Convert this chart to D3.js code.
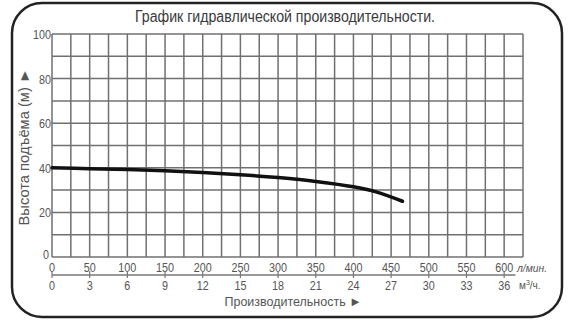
<!DOCTYPE html>
<html>
<head>
<meta charset="utf-8">
<script src="https://cdn.jsdelivr.net/npm/d3@7"></script>
<style>
  body { margin: 0; background: #fff; }
  svg { display: block; font-family: "Liberation Sans Narrow", "Arial Narrow", "Liberation Sans", sans-serif; }
  .grid line { stroke: #707070; stroke-width: 1.5; }
  .lbl { fill: #555; font-size: 13px; }
</style>
</head>
<body>
<div id="chart"></div>
<script>
// flow in l/min vs head in m
const flow = [0, 50, 100, 150, 200, 250, 300, 350, 400, 430, 465];
const head = [40, 39.6, 39.2, 38.7, 37.9, 36.9, 35.6, 33.9, 31.5, 29.2, 25.0];

const flowTicks = [0, 50, 100, 150, 200, 250, 300, 350, 400, 450, 500, 550, 600];
const m3Ticks = [0, 3, 6, 9, 12, 15, 18, 21, 24, 27, 30, 33, 36];
const headTicks = [0, 20, 40, 60, 80, 100];

const width = 571, height = 330;
const margin = { left: 52, top: 34, right: 48, bottom: 73 };

const svg = d3.select('#chart').append('svg')
    .attr('width', width)
    .attr('height', height);

// rounded frame
svg.append('rect')
    .attr('x', 12).attr('y', 3)
    .attr('width', 550).attr('height', 314)
    .attr('rx', 30).attr('ry', 30)
    .attr('fill', 'none')
    .attr('stroke', '#222')
    .attr('stroke-width', 2.5);

const x = d3.scaleLinear().domain([0, 625]).range([margin.left, width - margin.right]);
const y = d3.scaleLinear().domain([0, 100]).range([height - margin.bottom, margin.top]);

// narrow text helper: digits are condensed in the original
const narrow = d => String(d).length * 6;

// grid
const grid = svg.append('g').attr('class', 'grid');
grid.selectAll('line.v').data(d3.range(0, 626, 25))
    .enter().append('line')
    .attr('x1', d => x(d)).attr('x2', d => x(d))
    .attr('y1', y(0)).attr('y2', y(100));
grid.selectAll('line.h').data(d3.range(0, 101, 10))
    .enter().append('line')
    .attr('x1', x(0)).attr('x2', x(625))
    .attr('y1', d => y(d)).attr('y2', d => y(d));

// y labels
svg.append('g').selectAll('text').data(headTicks)
    .enter().append('text')
    .attr('class', 'lbl')
    .attr('x', d => d === 0 ? x(0) - 3 : x(0) - 1)
    .attr('y', d => y(d) + (d === 0 ? 2 : 5))
    .attr('text-anchor', 'end')
    .attr('textLength', narrow).attr('lengthAdjust', 'spacingAndGlyphs')
    .text(d => d);

// flow labels (l/min)
const row1 = height - margin.bottom + 15;
svg.append('g').selectAll('text').data(flowTicks)
    .enter().append('text')
    .attr('class', 'lbl')
    .attr('x', d => x(d))
    .attr('y', row1)
    .attr('text-anchor', 'middle')
    .attr('textLength', narrow).attr('lengthAdjust', 'spacingAndGlyphs')
    .text(d => d);

// separator line with ticks
const sepY = 275;
svg.append('line')
    .attr('x1', x(0)).attr('x2', x(615))
    .attr('y1', sepY).attr('y2', sepY)
    .attr('stroke', '#777').attr('stroke-width', 1.4);
svg.append('g').selectAll('line').data(flowTicks)
    .enter().append('line')
    .attr('x1', d => x(d)).attr('x2', d => x(d))
    .attr('y1', sepY - 4).attr('y2', sepY + 3)
    .attr('stroke', '#777').attr('stroke-width', 1.2);

// m3/h labels
svg.append('g').selectAll('text').data(m3Ticks)
    .enter().append('text')
    .attr('class', 'lbl')
    .attr('x', (d, i) => x(flowTicks[i]))
    .attr('y', 290)
    .attr('text-anchor', 'middle')
    .attr('textLength', narrow).attr('lengthAdjust', 'spacingAndGlyphs')
    .text(d => d);

// units
svg.append('text').attr('class', 'lbl')
    .attr('x', 517).attr('y', row1)
    .style('font-size', '11px').style('font-style', 'italic')
    .attr('textLength', 30).attr('lengthAdjust', 'spacingAndGlyphs')
    .text('л/мин.');
svg.append('text').attr('class', 'lbl')
    .attr('x', 519).attr('y', 289)
    .style('font-size', '10px')
    .html('м<tspan dy="-4" font-size="7">3</tspan><tspan dy="4">/ч.</tspan>');

// axis titles
svg.append('text').attr('class', 'lbl')
    .attr('x', 293).attr('y', 306)
    .attr('text-anchor', 'middle')
    .style('font-size', '13px')
    .attr('textLength', 137).attr('lengthAdjust', 'spacingAndGlyphs')
    .text('Производительность ►');
svg.append('text').attr('class', 'lbl')
    .attr('transform', 'translate(29,147) rotate(-90)')
    .attr('text-anchor', 'middle')
    .style('font-size', '14px')
    .attr('textLength', 157).attr('lengthAdjust', 'spacingAndGlyphs')
    .text('Высота подъёма (м) ►');

// title
svg.append('text')
    .attr('x', 285).attr('y', 22)
    .attr('text-anchor', 'middle')
    .attr('fill', '#3a3a3a')
    .style('font-size', '16px')
    .attr('textLength', 300).attr('lengthAdjust', 'spacingAndGlyphs')
    .text('График гидравлической производительности.');

// performance curve
const pts = flow.map((f, i) => [f, head[i]]);
const line = d3.line().x(d => x(d[0])).y(d => y(d[1])).curve(d3.curveCatmullRom);
svg.append('path')
    .datum(pts)
    .attr('d', line)
    .attr('fill', 'none')
    .attr('stroke', '#111')
    .attr('stroke-width', 3.5)
    .attr('stroke-linecap', 'round');
</script>
</body>
</html>
